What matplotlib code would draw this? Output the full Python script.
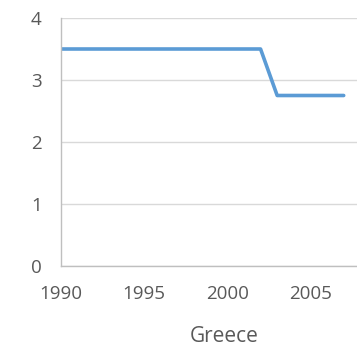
import matplotlib.pyplot as plt

# fertility-style series for Greece, yearly
years = list(range(1990, 2008))
values = [3.5] * 13 + [2.75] * 5

fig = plt.figure(figsize=(3.57, 3.52), dpi=100)
ax = fig.add_axes([61/357, 86/352, 1 - 61/357, 248/352])

ax.plot(years, values, color='#5b9bd5', lw=2.6, solid_capstyle='round')

ax.set_xlim(1990, 2007.8)
ax.set_ylim(0, 4)
ax.set_xticks([1990, 1995, 2000, 2005])
ax.set_yticks([0, 1, 2, 3, 4])
ax.grid(axis='y', color='#d9d9d9', lw=1)
ax.set_axisbelow(True)
for s in ['top', 'right']:
    ax.spines[s].set_visible(False)
for s in ['left', 'bottom']:
    ax.spines[s].set_color('#bfbfbf')
    ax.spines[s].set_linewidth(1)
ax.tick_params(length=0, labelsize=13.5, labelcolor='#595959', pad=14,
               labelfontfamily='Open Sans')
ax.tick_params(axis='y', pad=14)

fig.text(224/357, 16/352, 'Greece', ha='center', va='center', fontsize=15,
         color='#595959', family='Open Sans')

fig.savefig('out.png', dpi=100)
